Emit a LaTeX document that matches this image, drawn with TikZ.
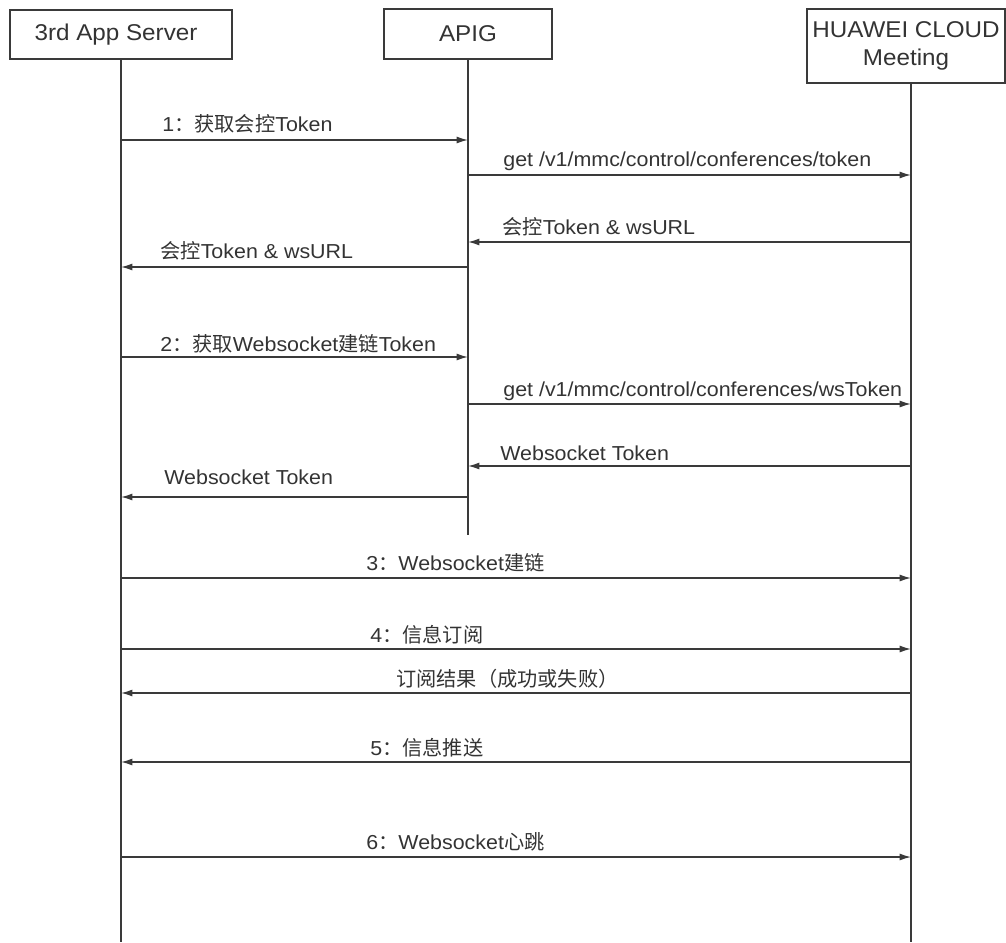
\documentclass[tikz,border=0pt]{standalone}
\usepackage{fontspec}
\setmainfont{Liberation Sans}[FakeStretch=1.06]
\newfontfamily\cjk{Noto Sans CJK SC}
\usetikzlibrary{arrows.meta}
\definecolor{ink}{HTML}{333333}
\definecolor{edge}{HTML}{3A3A3A}
\tikzset{
  actor/.style={draw=edge,line width=0.75pt,text=ink,align=center,inner sep=2pt,
    font=\fontsize{13}{15.5}\selectfont},
  life/.style={draw=edge,line width=0.8pt},
  msg/.style={draw=edge,line width=0.75pt,-{Latex[length=6.5pt,width=4pt]}},
  lbl/.style={text=ink,font=\fontsize{11.5}{13}\selectfont,inner sep=0pt,anchor=base west}
}

\begin{document}
\begin{tikzpicture}[x=0.02cm,y=-0.02cm]
  \useasboundingbox (0,0) rectangle (1006,942);
  % participants
  \node[actor,minimum width=4.44cm,minimum height=0.98cm] (srv) at (121,34.5) {3rd App Server\hspace*{0.2cm}};
  \node[actor,minimum width=3.36cm,minimum height=1cm] (apig) at (468,34) {APIG};
  \node[actor,minimum width=3.96cm,minimum height=1.48cm] (hw) at (906,46) {HUAWEI CLOUD\\Meeting};
  \coordinate (hwl) at ([xshift=0.1cm]hw.south);
  % lifelines
  \coordinate (srvEnd) at (srv |- 0,942);
  \coordinate (apigEnd) at (apig |- 0,535);
  \coordinate (hwEnd) at (hwl |- 0,942);
  \draw[life] (srv.south) -- (srvEnd);
  \draw[life] (apig.south) -- (apigEnd);
  \draw[life] (hwl) -- (hwEnd);
  % step 1: conference control token
  \draw[msg] (srv |- 0,140) -- (apig |- 0,140);
  \node[lbl] (l1) at (162,132) {1{\cjk ：获取会控}Token};
  \draw[msg] (apig |- 0,175) -- (hwl |- 0,175);
  \node[lbl] (l2) at (503,167) {get /v1/mmc/control/conferences/token};
  \draw[msg] (hwl |- 0,242) -- (apig |- 0,242);
  \node[lbl] (l3) at (502,235) {{\cjk 会控}Token \& wsURL};
  \draw[msg] (apig |- 0,267) -- (srv |- 0,267);
  \node[lbl] (l4) at (160,258) {{\cjk 会控}Token \& wsURL};
  % step 2: websocket token
  \draw[msg] (srv |- 0,357) -- (apig |- 0,357);
  \node[lbl] (l5) at (160,351) {2{\cjk ：获取}Websocket{\cjk 建链}Token};
  \draw[msg] (apig |- 0,404) -- (hwl |- 0,404);
  \node[lbl] (l6) at (503,396) {get /v1/mmc/control/conferences/wsToken};
  \draw[msg] (hwl |- 0,466) -- (apig |- 0,466);
  \node[lbl] (l7) at (500,460) {Websocket Token};
  \draw[msg] (apig |- 0,497) -- (srv |- 0,497);
  \node[lbl] (l8) at (164,484) {Websocket Token};
  % steps 3-6: websocket
  \draw[msg] (srv |- 0,578) -- (hwl |- 0,578);
  \node[lbl] (l9) at (366,570) {3{\cjk ：}Websocket{\cjk 建链}};
  \draw[msg] (srv |- 0,649) -- (hwl |- 0,649);
  \node[lbl] (l10) at (370,642) {4{\cjk ：信息订阅}};
  \draw[msg] (hwl |- 0,693) -- (srv |- 0,693);
  \node[lbl] (l11) at (396,686) {{\cjk 订阅结果（成功或失败）}};
  \draw[msg] (hwl |- 0,762) -- (srv |- 0,762);
  \node[lbl] (l12) at (370,755) {5{\cjk ：信息推送}};
  \draw[msg] (srv |- 0,857) -- (hwl |- 0,857);
  \node[lbl] (l13) at (366,849) {6{\cjk ：}Websocket{\cjk 心跳}};
\end{tikzpicture}
\end{document}
